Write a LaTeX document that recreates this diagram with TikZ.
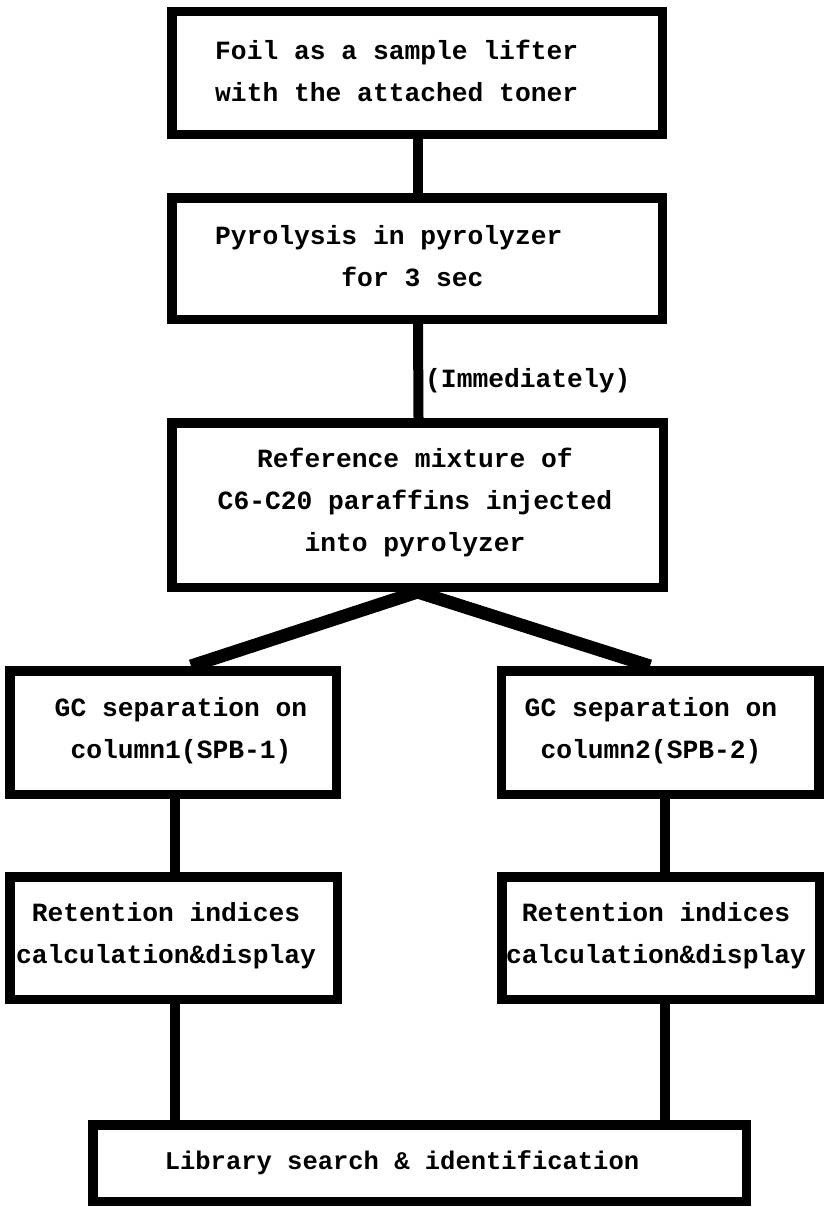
\documentclass[tikz,border=0pt]{standalone}
\usepackage{fontspec}
\setmonofont{Liberation Mono}
\usetikzlibrary{backgrounds}
\begin{document}
\begin{tikzpicture}[x=1pt,y=-1pt,
  box/.style={draw=black, line width=9.5pt, fill=white, rectangle, inner sep=0pt},
  txt/.style={font=\ttfamily\bfseries\fontsize{26.3}{42}\selectfont, inner sep=0pt},
  conn/.style={line width=10pt},
  diag/.style={line width=13pt, line join=miter}]
\useasboundingbox (0,0) rectangle (826,1207);
% boxes
\node[box, minimum width=490.5pt, minimum height=122.5pt] (b1) at (417,73) {};
\node[box, minimum width=490.5pt, minimum height=121.5pt] (b2) at (417,258.5) {};
\node[box, minimum width=491.5pt, minimum height=164.5pt] (b3) at (417.5,505) {};
\node[box, minimum width=326.5pt, minimum height=123.5pt] (gc1) at (173,732.5) {};
\node[box, minimum width=317.5pt, minimum height=123.5pt] (gc2) at (660,732.5) {};
\node[box, minimum width=327.5pt, minimum height=122.5pt] (r1) at (173.5,938) {};
\node[box, minimum width=317.5pt, minimum height=122.5pt] (r2) at (660.5,938) {};
\node[box, minimum width=653.5pt, minimum height=76.5pt] (lib) at (419.5,1163) {};
% texts
\node[txt, anchor=west, align=left] (t1) at (215,71) {Foil as a sample lifter\\with the attached toner};
\node[txt, anchor=west, align=left] (t2) at (215,256) {Pyrolysis in pyrolyzer\\\hspace*{4.8em}for 3 sec};
\node[txt, align=center] (t3) at (415,503) {Reference mixture of\\C6-C20 paraffins injected\\into pyrolyzer};
\node[txt, align=center] (tg1) at (181,731) {GC separation on\\column1(SPB-1)};
\node[txt, align=center] (tg2) at (651,731) {GC separation on\\column2(SPB-2)};
\node[txt, align=center] (tr1) at (166,936) {Retention indices\\calculation\&display};
\node[txt, align=center] (tr2) at (656,936) {Retention indices\\calculation\&display};
\node[txt, font=\ttfamily\bfseries\fontsize{25.5}{42}\selectfont] (tl) at (402,1163) {Library search \& identification};
\node[txt, anchor=west] (imm) at (425,381) {(Immediately)};
% connectors
\begin{scope}[on background layer]
\fill[white] (0,0) rectangle (826,1207);
\draw[conn] ([xshift=1pt]b1.south) -- ([xshift=1pt]b2.north);
\draw[conn] ([xshift=1pt]b2.south) -- ([xshift=1pt]b3.north);
\draw[diag] ([xshift=18pt]gc1.north) -- (b3.south) -- ([xshift=-10pt]gc2.north);
\draw[conn] ([xshift=2pt]gc1.south) -- ([xshift=2pt]gc1.south |- r1.north);
\draw[conn] ([xshift=5pt]gc2.south) -- ([xshift=5pt]gc2.south |- r2.north);
\draw[conn] ([xshift=1pt]r1.south) -- ([xshift=1pt]r1.south |- lib.north);
\draw[conn] ([xshift=4pt]r2.south) -- ([xshift=4pt]r2.south |- lib.north);
\end{scope}
\end{tikzpicture}
\end{document}
